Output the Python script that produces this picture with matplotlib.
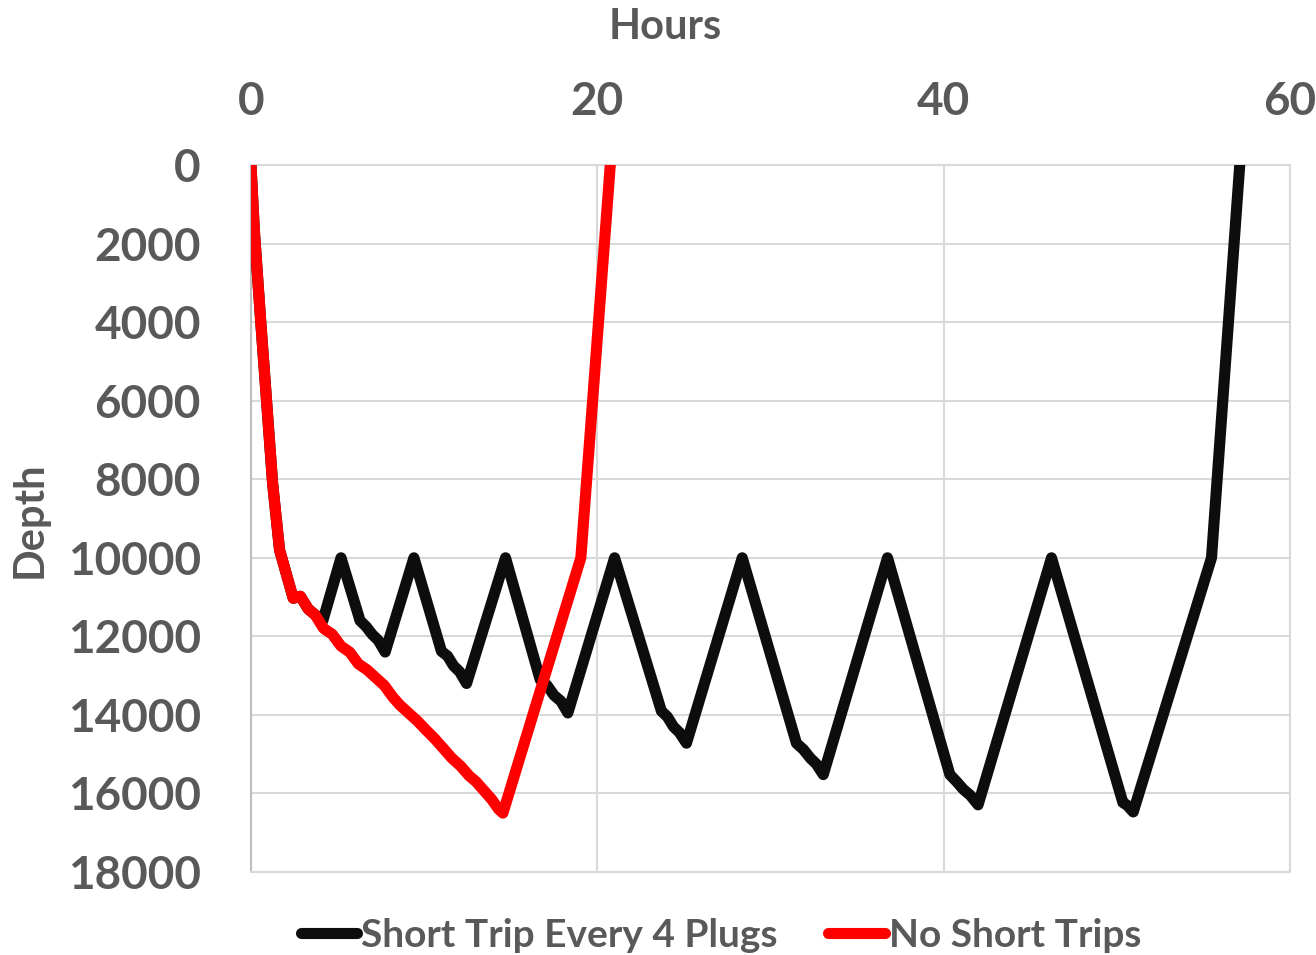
import matplotlib
matplotlib.use("Agg")
import matplotlib.pyplot as plt

plt.rcParams['font.family'] = ['Lato', 'DejaVu Sans']
plt.rcParams['font.weight'] = 'bold'

TEXT = '#595959'
GRID = '#d9d9d9'

# trip with a short trip every 4 plugs
short_hours = [0.0, 0.2, 0.55, 1.25, 1.65, 2.44, 2.85, 3.3, 3.7, 4.15,
               5.2, 6.3, 6.65, 7.0, 7.35, 7.75,
               9.41, 11.0, 11.35, 11.7, 12.05, 12.45,
               14.7, 16.7, 17.1, 17.5, 17.9, 18.3,
               21.0, 23.7, 24.05, 24.4, 24.75, 25.15,
               28.37, 31.5, 31.9, 32.3, 32.65, 33.05,
               36.76, 40.36, 40.75, 41.15, 41.55, 41.99,
               46.23, 50.35, 50.6, 50.95,
               55.47, 57.1]
short_depth = [0, 1700, 3900, 8100, 9800, 11030, 10980, 11300, 11450, 11600,
               10000, 11600, 11750, 11950, 12100, 12400,
               10000, 12380, 12500, 12750, 12900, 13200,
               10000, 13100, 13250, 13500, 13650, 13950,
               10000, 13900, 14050, 14300, 14450, 14720,
               10000, 14720, 14880, 15100, 15250, 15520,
               10000, 15520, 15700, 15900, 16050, 16290,
               10000, 16230, 16300, 16470,
               10000, 0]

# trip without short trips
no_short_hours = [0.0, 0.2, 0.55, 1.25, 1.65, 2.44, 2.85, 3.3, 3.7, 4.2,
                  4.7, 5.2, 5.7, 6.2, 6.7, 7.2, 7.7, 8.2, 8.6, 9.1,
                  9.6, 10.1, 10.6, 11.1, 11.6, 12.1, 12.6, 13.0, 13.5,
                  13.9, 14.3, 14.55, 19.05, 20.75]
no_short_depth = [0, 1700, 3900, 8100, 9800, 11030, 10980, 11300, 11450, 11800,
                  11950, 12250, 12400, 12700, 12850, 13050, 13250, 13550, 13750, 13950,
                  14150, 14380, 14600, 14850, 15100, 15300, 15550, 15700, 15950,
                  16150, 16400, 16500, 10000, 0]

x_ticks = [0, 20, 40, 60]
y_ticks = [0, 2000, 4000, 6000, 8000, 10000, 12000, 14000, 16000, 18000]

fig = plt.figure(figsize=(13.16, 9.55), dpi=100)
ax = fig.add_axes([0.1907, 0.0869, 0.7895, 0.7403])

ax.plot(short_hours, short_depth, color='#0d0d0d', lw=8,
        solid_joinstyle='round', solid_capstyle='round',
        label='Short Trip Every 4 Plugs', zorder=3)
ax.plot(no_short_hours, no_short_depth, color='#ff0000', lw=8,
        solid_joinstyle='round', solid_capstyle='round',
        label='No Short Trips', zorder=4)

ax.set_xlim(0, 60)
ax.set_ylim(18000, 0)
ax.set_xticks(x_ticks)
ax.set_yticks(y_ticks)
ax.xaxis.tick_top()
ax.xaxis.set_label_position('top')
ax.tick_params(length=0, labelsize=33, labelcolor=TEXT)
ax.tick_params(axis='y', pad=36)
ax.tick_params(axis='x', pad=30)
ax.grid(True, color=GRID, lw=1.5)
ax.set_axisbelow(True)
for s in ax.spines.values():
    s.set_color(GRID)
    s.set_linewidth(1.5)
ax.spines['left'].set_color('#bfbfbf')

fig.text(665 / 1316, 1 - 27 / 955, 'Hours', ha='center', va='center',
         fontsize=30, color=TEXT, fontweight='bold')
fig.text(30 / 1316, 1 - 520 / 955, 'Depth', ha='center', va='center',
         rotation=90, fontsize=30, color=TEXT, fontweight='bold')

leg = fig.legend(loc='center', bbox_to_anchor=(721 / 1316, 1 - 935 / 955),
                 ncol=2, frameon=False, fontsize=28, handlelength=1.45,
                 handletextpad=0.1, columnspacing=1.3)
for t in leg.get_texts():
    t.set_color(TEXT)

fig.savefig('out.png', dpi=100)
